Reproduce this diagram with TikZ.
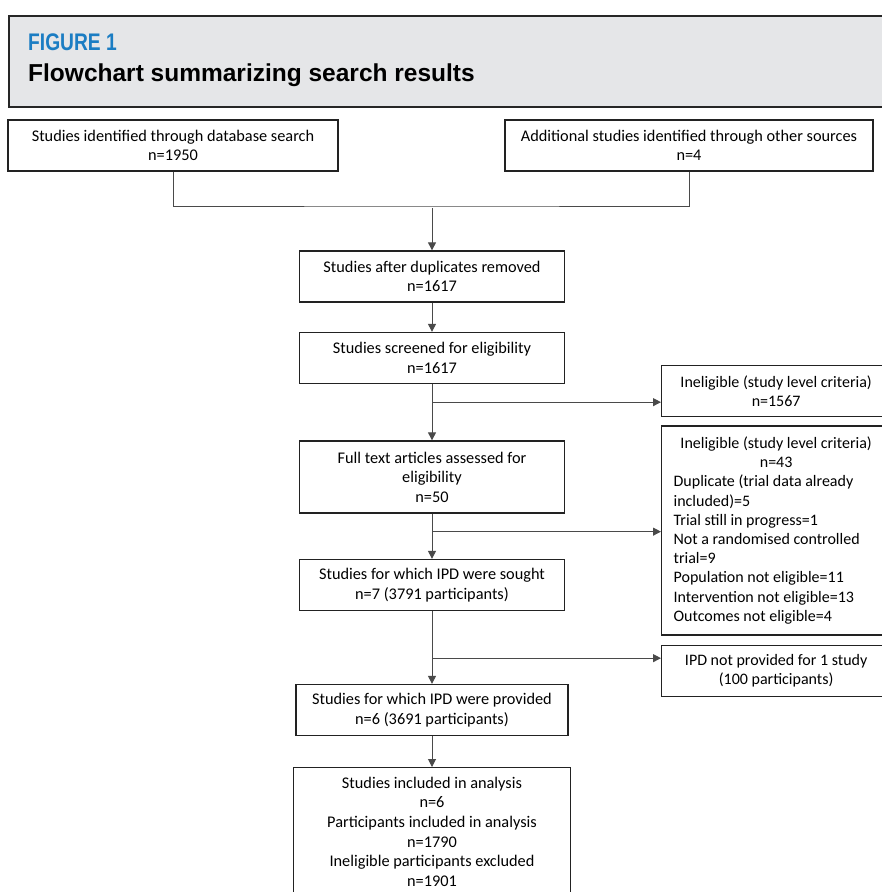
\documentclass[tikz,border=0pt]{standalone}
\usepackage{fontspec}
\setmainfont{Carlito}
\newfontfamily\headfont{Liberation Sans}
\newfontfamily\labelfont[FakeStretch=0.8]{Liberation Sans}
\usepackage{xcolor}
\definecolor{DarkGrey}{HTML}{222222}
\definecolor{LineGrey}{HTML}{4A4A4A}
\definecolor{HeadGrey}{HTML}{E5E6E8}
\definecolor{FigBlue}{HTML}{1B7DC3}
\usetikzlibrary{arrows.meta,positioning,calc}
\setlength{\parindent}{0pt}
\newcommand\MainW{265pt}
\newcommand\Height{51pt}
\newcommand\MainX{432}
\newcommand\SideX{661}
\tikzstyle{block}=[rectangle,draw=DarkGrey,line width=1.3pt,align=center,inner sep=0pt,
                   minimum width=\MainW,minimum height=\Height,
                   font=\fontsize{16.3}{19.6}\selectfont]
\tikzstyle{side}=[block,anchor=west,minimum width=0pt,text width=205pt,inner xsep=12pt,
                  align=flush center,font=\fontsize{16}{19.2}\selectfont]
\tikzstyle{link}=[draw=LineGrey,line width=1pt]
\tikzstyle{flow}=[link,-{Triangle[length=8pt,width=8pt]}]
\tikzstyle{headtext}=[anchor=base west,inner sep=0pt]

\begin{document}
\begin{tikzpicture}[x=1pt,y=-1pt]
   \useasboundingbox (0,0) rectangle (882,892);
   % header
   \node[draw=black!85,line width=2pt,fill=HeadGrey,anchor=north west,
         minimum width=900pt,minimum height=91pt] (head) at (8,15) {};
   \node[headtext,text=FigBlue,font=\labelfont\bfseries\fontsize{24}{24}\selectfont] (fig) at (28,50) {FIGURE 1};
   \node[headtext,font=\headfont\bfseries\fontsize{24.5}{24.5}\selectfont] (title) at (28,81) {Flowchart summarizing search results};
   % main column
   \node[block,minimum width=330pt] (dbs) at (173,145.5) {Studies identified through database search\\n=1950};
   \node[block,minimum width=368pt] (oth) at (689,145.5) {Additional studies identified through other sources\\n=4};
   \node[block] (dup) at (\MainX,276.5) {Studies after duplicates removed\\n=1617};
   \node[block] (scr) at (\MainX,358) {Studies screened for eligibility\\n=1617};
   \node[block,minimum height=72pt] (full) at (\MainX,477) {Full text articles assessed for\\eligibility\\n=50};
   \node[block] (sought) at (\MainX,585) {Studies for which IPD were sought\\n=7 (3791 participants)};
   \node[block,minimum width=272pt] (prov) at (\MainX,710) {Studies for which IPD were provided\\n=6 (3691 participants)};
   \node[block,minimum width=277pt,minimum height=128pt,anchor=north] (incl) at (\MainX,767)
        {Studies included in analysis\\n=6\\Participants included in analysis\\n=1790\\Ineligible participants excluded\\n=1901};
   % exclusions
   \node[side] (inel1) at (\SideX,391) {Ineligible (study level criteria)\\n=1567};
   \node[side,align=flush left,minimum height=209pt] (inel2) at (\SideX,530.5)
        {{\centering Ineligible (study level criteria)\\n=43\par}
         Duplicate (trial data already\\included)=5\\Trial still in progress=1\\Not a randomised controlled\\trial=9\\Population not eligible=11\\Intervention not eligible=13\\Outcomes not eligible=4};
   \node[side] (notprov) at (\SideX,671) {IPD not provided for 1 study\\(100 participants)};
   % connectors
   \coordinate (join) at (\MainX,206);
   \coordinate (merge) at (\MainX,208);
   \draw[link] (dbs.south) |- (join) -| (oth.south);
   \draw[flow] (merge) -- (dup.north);
   \draw[flow] (dup.south) -- (scr.north);
   \draw[flow] (scr.south) -- (full.north);
   \coordinate (b1) at ($(scr.south)+(0,18)$);
   \draw[flow] (b1) -- (b1 -| inel1.west);
   \draw[flow] (full.south) -- (sought.north);
   \coordinate (b2) at ($(full.south)+(0,18)$);
   \draw[flow] (b2) -- (b2 -| inel2.west);
   \draw[flow] (sought.south) -- (prov.north);
   \coordinate (b3) at ($(sought.south)+(0,47)$);
   \draw[flow] (b3) -- (b3 -| notprov.west);
   \draw[flow] (prov.south) -- (incl.north);
\end{tikzpicture}
\end{document}
